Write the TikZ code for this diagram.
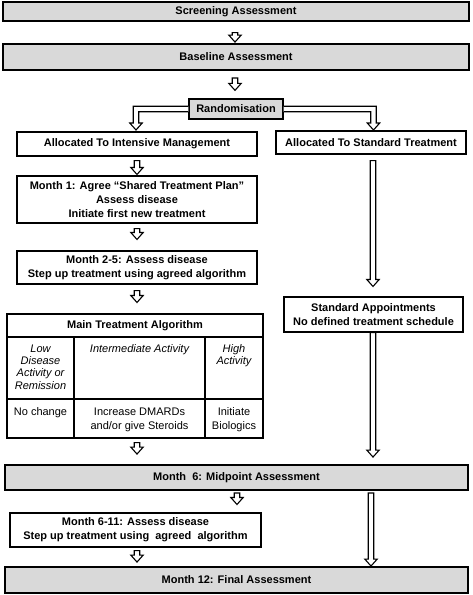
\documentclass[tikz,border=0pt]{standalone}
\usepackage{fontspec}
\setmainfont{Liberation Sans}
\usetikzlibrary{calc}
\newcommand\barrow[2]{\path[arrowline] let \p1=#1, \p2=#2 in
 ({\x1-2.75pt},\y1) -- ({\x1-2.75pt},{\y2+7pt}) -- ({\x1-6.25pt},{\y2+7pt}) -- (\x1,\y2) -- ({\x1+6.25pt},{\y2+7pt}) -- ({\x1+2.75pt},{\y2+7pt}) -- ({\x1+2.75pt},\y1) -- cycle;}
\begin{document}
\begin{tikzpicture}[x=1pt,y=-1pt,
  box/.style={draw, line width=1.1pt, fill=white, align=center, font=\fontsize{11}{14.3}\selectfont\bfseries, inner sep=0pt},
  gbox/.style={box, fill=black!15, line width=1.3pt},
  tbox/.style={box, fill=black!15, line width=1.9pt},
  txt/.style={align=center, font=\fontsize{11}{12.3}\selectfont\itshape, inner sep=0pt},
  rtxt/.style={align=center, font=\fontsize{11}{14}\selectfont, inner sep=0pt},
  grid/.style={line width=1.1pt},
  arrowline/.style={draw, line width=1.1pt, fill=white, line join=miter}]
\useasboundingbox (0,0) rectangle (472,595);

\node[gbox, minimum width=466pt, minimum height=19pt] (scr) at (236,11.5) {Screening Assessment};
\node[tbox, minimum width=466pt, minimum height=26pt] (base) at (236,57) {Baseline Assessment};
\node[gbox, minimum width=94pt, minimum height=20pt] (rand) at (236,109) {Randomisation};
\node[box, minimum width=240pt, minimum height=24pt] (int) at (137,144) {Allocated To Intensive Management};
\node[box, minimum width=190pt, minimum height=23pt] (std) at (371,142.5) {Allocated To Standard Treatment};
\node[box, minimum width=240pt, minimum height=47pt] (m1) at (137,199.5) {Month 1: Agree “Shared Treatment Plan”\\Assess disease\\Initiate first new treatment};
\node[box, minimum width=240pt, minimum height=33pt] (m25) at (137,267.5) {Month 2-5: Assess disease\\Step up treatment using agreed algorithm};
\node[box, minimum width=179pt, minimum height=35pt] (sa) at (373.5,314.5) {Standard Appointments\\No defined treatment schedule};

% table
\node[draw, grid, minimum width=256pt, minimum height=124pt, inner sep=0pt] (tbl) at (135,376) {};
\draw[grid] (7,337) -- (263,337);
\draw[grid] (7,399) -- (263,399);
\draw[grid] (74,337) -- (74,438);
\draw[grid] (205,337) -- (205,438);
\node[box, draw=none, fill=none] (th) at (135,325.5) {Main Treatment Algorithm};
\node[txt, anchor=north] (c1) at (40.5,344.5) {Low\\Disease\\Activity or\\Remission};
\node[txt, anchor=north] (c2) at (139.5,344.5) {Intermediate Activity};
\node[txt, anchor=north] (c3) at (234,344.5) {High\\Activity};
\node[rtxt, anchor=north] (d1) at (40.5,407.5) {No change};
\node[rtxt, anchor=north] (d2) at (139.5,407.5) {Increase DMARDs\\and/or give Steroids};
\node[rtxt, anchor=north] (d3) at (234,407.5) {Initiate\\Biologics};

\node[tbox, minimum width=463pt, minimum height=25pt] (mid) at (236.5,477.5) {Month\ \ 6: Midpoint Assessment};
\node[box, minimum width=251pt, minimum height=34pt] (m611) at (135.5,530) {Month 6-11: Assess disease\\Step up treatment using\ \ agreed\ \ algorithm};
\node[tbox, minimum width=463pt, minimum height=26pt] (fin) at (236.5,580) {Month 12: Final Assessment};

% arrows
\barrow{($(scr.south)+(-1,11)$)}{($(base.north)+(-1,-1)$)}
\barrow{($(base.south)+(-1,7)$)}{($(rand.north)+(-1,-8)$)}
\path[arrowline] ($(rand.west)+(0,-2.75)$) -| (133.25,123) -- (129.75,123) -- (136,130) -- (142.25,123) -- (138.75,123) |- ($(rand.west)+(0,2.75)$);
\path[arrowline] ($(rand.east)+(0,-2.75)$) -| (376.25,123) -- (379.75,123) -- (373.5,130) -- (367.25,123) -- (370.75,123) |- ($(rand.east)+(0,2.75)$);
\barrow{($(int.south)+(0,4)$)}{($(m1.north)+(0,-1)$)}
\barrow{($(m1.south)+(0,5)$)}{($(m25.north)+(0,-11)$)}
\barrow{($(m25.south)+(0,6)$)}{($(tbl.north)+(2,-11)$)}
\barrow{($(tbl.south)+(2,4)$)}{($(mid.north)+(0.5,-10)$)}
\barrow{($(mid.south)+(0.5,2)$)}{($(m611.north)+(1.5,-8)$)}
\barrow{($(m611.south)+(1.5,3)$)}{($(fin.north)+(0.5,-4)$)}
\barrow{($(std.south)+(2,6)$)}{($(sa.north)+(-0.5,-10)$)}
\barrow{($(sa.south)+(-0.5,0)$)}{($(mid.north)+(136.5,-7)$)}
\barrow{($(mid.south)+(134.5,2)$)}{($(fin.north)+(134.5,0)$)}
\end{tikzpicture}
\end{document}
